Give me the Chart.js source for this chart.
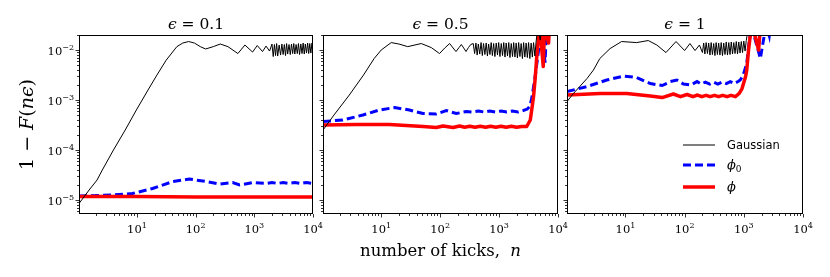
<!DOCTYPE html>
<html>
<head>
<meta charset="utf-8">
<script src="https://cdn.jsdelivr.net/npm/chart.js@4.4.1/dist/chart.umd.min.js"></script>
<style>
  body { margin: 0; background: #fff; }
  #wrap { position: relative; width: 830px; height: 277px; }
  #wrap canvas { position: absolute; left: 0; top: 0; }
</style>
</head>
<body>
<div id="wrap">
  <canvas id="c1" width="830" height="277"></canvas>
  <canvas id="c2" width="830" height="277"></canvas>
  <canvas id="c3" width="830" height="277"></canvas>
</div>
<script>
// ---- data (n = kicks, y = 1 - F(n eps)) ----
const epsLabels = ['0.1', '0.5', '1'];
const xTickExps = [1, 2, 3, 4];
const yTickExps = [-5, -4, -3, -2];

// eps = 0.1
const nGaussA = [1.03, 1.58, 2.09, 2.57, 3.98, 6.31, 10, 15.8, 21.9, 31.6, 47.9, 60.3, 75.9, 95.5, 120, 148, 200, 263, 355, 525, 692, 933, 1122, 1380, 1585, 1820,
  2000, 2100, 2200, 2300, 2400, 2500, 2650, 2800, 2950, 3100, 3250, 3400, 3550, 3700, 3900, 4100, 4300, 4500, 4700, 4900, 5150, 5400, 5650, 5900, 6200, 6500, 6800, 7100, 7400, 7750, 8100, 8450, 8800, 9200, 9600, 10000];
const yGaussA = [8.51e-6, 1.66e-5, 2.51e-5, 3.98e-5, 1.0e-4, 2.51e-4, 6.61e-4, 1.66e-3, 3.16e-3, 6.31e-3, 0.0117, 0.0138, 0.0148, 0.0138, 0.0117, 0.0105, 0.0117, 0.0132, 0.0117, 0.00851, 0.0126, 0.00912, 0.0123, 0.00933, 0.0120, 0.00955,
  0.0132, 0.00741, 0.0129, 0.00776, 0.0135, 0.00759, 0.0126, 0.00794, 0.0132, 0.00813, 0.0129, 0.00776, 0.0135, 0.00832, 0.0129, 0.00813, 0.0132, 0.00851, 0.0135, 0.00832, 0.0129, 0.00851, 0.0135, 0.00813, 0.0132, 0.00851, 0.0138, 0.00832, 0.0132, 0.00871, 0.0138, 0.00851, 0.0135, 0.00871, 0.0138, 0.00891];
const nPhi0A = [1.03, 3.8, 8.4, 18.5, 40.7, 78, 151, 257, 427, 562, 955, 1585, 2000, 2500, 3100, 3900, 4900, 6200, 7750, 10000];
const yPhi0A = [1.2e-5, 1.26e-5, 1.35e-5, 1.70e-5, 2.34e-5, 2.63e-5, 2.34e-5, 2.09e-5, 2.24e-5, 2.0e-5, 2.24e-5, 2.14e-5, 2.24e-5, 2.14e-5, 2.24e-5, 2.14e-5, 2.24e-5, 2.14e-5, 2.24e-5, 2.14e-5];
const nPhiA = [1.03, 10, 100, 1000, 10000];
const yPhiA = [1.17e-5, 1.17e-5, 1.15e-5, 1.15e-5, 1.15e-5];

// eps = 0.5
const nGaussB = [1.03, 1.58, 2.88, 5.01, 7.59, 10, 14.8, 20, 28.2, 47.9, 70.8, 97.7, 120, 145, 166, 186, 209, 229, 251, 275, 302, 331,
  365, 385, 405, 425, 445, 470, 495, 520, 545, 575, 605, 635, 665, 700, 735, 770, 810, 850, 895, 940, 985, 1035, 1090, 1145, 1200, 1260, 1320, 1390, 1460, 1530, 1610, 1690, 1770, 1860, 1950, 2050, 2150, 2260, 2370, 2490, 2610, 2740, 2880, 3020, 3170, 3330, 3500, 3670, 3850, 4050, 4250,
  4571, 5000, 5400, 10000];
const yGaussB = [2.51e-4, 5.01e-4, 1.26e-3, 3.16e-3, 6.76e-3, 0.0100, 0.0141, 0.0132, 0.0117, 0.0135, 0.0112, 0.00851, 0.0110, 0.0135, 0.0110, 0.00933, 0.0112, 0.0129, 0.0110, 0.00933, 0.0112, 0.0129,
  0.0135, 0.00851, 0.0138, 0.00794, 0.0132, 0.00832, 0.0141, 0.00776, 0.0135, 0.00813, 0.0138, 0.00759, 0.0132, 0.00813, 0.0141, 0.00776, 0.0135, 0.00741, 0.0138, 0.00794, 0.0141, 0.00741, 0.0135, 0.00776, 0.0141, 0.00724, 0.0138, 0.00759, 0.0141, 0.00708, 0.0135, 0.00741, 0.0141, 0.00724, 0.0138, 0.00692, 0.0141, 0.00741, 0.0135, 0.00676, 0.0141, 0.00724, 0.0138, 0.00708, 0.0141, 0.00676, 0.0138, 0.00724, 0.0141, 0.00759, 0.0148,
  0.030, 0.0158, 0.035, 0.06];
const nPhi0B = [1.03, 2.23, 4.9, 9.33, 16.9, 30.2, 51.3, 86.1, 127, 188, 279, 350, 450, 560, 700, 870, 1080, 1350, 1680, 2100, 2570, 3020, 3350, 3631, 4169, 4677, 5012, 5300, 6026, 6500, 10000];
const yPhi0B = [3.72e-4, 3.98e-4, 5.01e-4, 6.31e-4, 7.08e-4, 6.31e-4, 5.37e-4, 5.25e-4, 6.17e-4, 5.37e-4, 5.89e-4, 5.75e-4, 6.03e-4, 5.75e-4, 6.03e-4, 5.75e-4, 6.03e-4, 5.75e-4, 6.03e-4, 5.75e-4, 6.17e-4, 6.6e-4, 7.6e-4, 1.17e-3, 3.39e-3, 0.0100, 0.0186, 0.030, 0.0056, 0.040, 0.06];
const nPhiB = [1.03, 3.75, 13.8, 51.3, 86.1, 112, 166, 214, 260, 320, 390, 480, 590, 720, 880, 1080, 1320, 1620, 1980, 2420, 2951, 3388, 3846, 4074, 4365, 4677, 4900, 5623, 5900, 6918, 7300, 10000];
const yPhiB = [3.16e-4, 3.24e-4, 3.24e-4, 2.95e-4, 2.82e-4, 3.02e-4, 2.82e-4, 3.02e-4, 2.85e-4, 2.98e-4, 2.85e-4, 2.98e-4, 2.85e-4, 2.98e-4, 2.85e-4, 2.98e-4, 2.85e-4, 2.98e-4, 2.85e-4, 2.95e-4, 2.95e-4, 3.98e-4, 1.17e-3, 2.51e-3, 7.41e-3, 0.0186, 0.030, 4.68e-3, 0.030, 0.0138, 0.040, 0.06];

// eps = 1
const nGaussC = [1.03, 1.32, 2.24, 2.88, 3.69, 5.5, 8.61, 15.5, 24.3, 33.9, 48.4, 71.6, 100, 123, 150, 178,
  200, 210, 220, 231, 243, 255, 268, 281, 295, 310, 325, 341, 358, 376, 395, 415, 436, 458, 481, 505, 530, 557, 585, 614, 645, 677, 711, 746, 783, 822, 863, 906, 951, 1000, 1050, 1100,
  1202, 10000];
const yGaussC = [9.33e-4, 1.35e-3, 2.69e-3, 3.98e-3, 6.76e-3, 0.0107, 0.0148, 0.0141, 0.0155, 0.0126, 0.00891, 0.0148, 0.00977, 0.0135, 0.00977, 0.0126,
  0.00891, 0.0138, 0.00832, 0.0141, 0.00851, 0.0138, 0.00794, 0.0141, 0.00813, 0.0135, 0.00776, 0.0141, 0.00813, 0.0138, 0.00794, 0.0141, 0.00776, 0.0138, 0.00813, 0.0145, 0.00794, 0.0141, 0.00813, 0.0145, 0.00832, 0.0141, 0.00851, 0.0148, 0.00832, 0.0145, 0.00871, 0.0148, 0.00891, 0.0151, 0.00955, 0.0155,
  0.030, 0.06];
const nPhi0C = [1.03, 2.24, 4.84, 9.33, 15.5, 26.3, 41.7, 57.5, 74.1, 95.5, 126, 162, 190, 225, 265, 310, 365, 430, 505, 590, 690, 800, 871, 977, 1122, 1202, 1288, 1350, 1905, 2291, 2450, 2692, 2900, 10000];
const yPhi0C = [1.48e-3, 1.86e-3, 2.51e-3, 3.02e-3, 2.82e-3, 2.14e-3, 1.95e-3, 2.34e-3, 2.51e-3, 2.09e-3, 2.0e-3, 2.34e-3, 2.09e-3, 2.29e-3, 2.09e-3, 2.29e-3, 2.09e-3, 2.29e-3, 2.14e-3, 2.34e-3, 2.14e-3, 2.34e-3, 2.51e-3, 3.16e-3, 5.37e-3, 0.0117, 0.020, 0.030, 6.76e-3, 0.025, 0.030, 0.0195, 0.040, 0.06];
const nPhiC = [1.03, 3.72, 10.5, 26.3, 41.7, 64.6, 85.1, 110, 138, 165, 195, 230, 270, 320, 375, 440, 520, 610, 720, 832, 933, 1072, 1122, 1202, 1288, 1400, 1778, 1905, 10000];
const yPhiC = [1.26e-3, 1.35e-3, 1.35e-3, 1.2e-3, 1.12e-3, 1.32e-3, 1.17e-3, 1.29e-3, 1.17e-3, 1.26e-3, 1.17e-3, 1.24e-3, 1.17e-3, 1.24e-3, 1.17e-3, 1.24e-3, 1.17e-3, 1.24e-3, 1.17e-3, 1.35e-3, 1.7e-3, 2.95e-3, 3.98e-3, 0.0100, 0.020, 0.030, 0.0100, 0.030, 0.06];

// ---- layout ----
const W = 830, H = 277;
const plotLefts = [79, 323, 567];
const plotRights = [313, 558, 803];
const plotTop = 35, plotBottom = 214;
const X_MIN = 1.03, X_MAX = 1e4, Y_MIN = 5.25e-6, Y_MAX = 0.02;

const serif = '"DejaVu Serif", serif';
const sans = '"DejaVu Sans", sans-serif';

const pts = (xs, ys) => xs.map((v, i) => ({ x: v, y: ys[i] }));

// draw a row of text pieces: [text, font, dy]
function drawRuns(ctx, runs, x, y, align) {
  let total = 0;
  runs.forEach(r => { ctx.font = r[1]; total += ctx.measureText(r[0]).width; });
  let cx = align === 'center' ? x - total / 2 : align === 'right' ? x - total : x;
  ctx.textAlign = 'left';
  ctx.textBaseline = 'alphabetic';
  runs.forEach(r => {
    ctx.font = r[1];
    ctx.fillText(r[0], cx, y + (r[2] || 0));
    cx += ctx.measureText(r[0]).width;
  });
}

function powRuns(e) {
  return [['10', `11.5px ${serif}`], [String(e).replace('-', '\u2212'), `8px ${serif}`, -5.5]];
}

function logTicks(min, max) {
  const out = [];
  for (let e = Math.floor(Math.log10(min)); e <= Math.ceil(Math.log10(max)); e++) {
    for (let m = 1; m <= 9; m++) {
      const v = m * Math.pow(10, e);
      if (v >= min && v <= max * 1.0001) out.push({ v, major: m === 1 });
    }
  }
  return out;
}

function decorPlugin(idx) {
  return {
    id: 'decor' + idx,
    afterDraw(chart) {
      const { ctx, chartArea: a, scales: { x, y } } = chart;
      ctx.save();
      ctx.fillStyle = '#000';
      ctx.strokeStyle = '#000';

      // frame
      ctx.lineWidth = 1;
      ctx.strokeRect(a.left + 0.5, a.top + 0.5, a.right - a.left - 1, a.bottom - a.top - 1);

      // ticks (outward)
      ctx.lineWidth = 0.8;
      ctx.beginPath();
      logTicks(X_MIN, X_MAX).forEach(t => {
        const px = Math.round(x.getPixelForValue(t.v)) + 0.5;
        ctx.moveTo(px, a.bottom);
        ctx.lineTo(px, a.bottom + (t.major ? 3.5 : 2));
      });
      logTicks(Y_MIN, Y_MAX).forEach(t => {
        const py = Math.round(y.getPixelForValue(t.v)) + 0.5;
        ctx.moveTo(a.left, py);
        ctx.lineTo(a.left - (t.major ? 3.5 : 2), py);
      });
      ctx.stroke();

      // x tick labels
      xTickExps.forEach(e => {
        drawRuns(ctx, powRuns(e), x.getPixelForValue(Math.pow(10, e)), 233, 'center');
      });
      // y tick labels, first panel only
      if (idx === 0) {
        yTickExps.forEach(e => {
          drawRuns(ctx, powRuns(e), a.left - 5, y.getPixelForValue(Math.pow(10, e)) + 5, 'right');
        });
        ctx.save();
        ctx.translate(33, (a.top + a.bottom) / 2);
        ctx.rotate(-Math.PI / 2);
        drawRuns(ctx, [
          ['1 \u2212 ', `19px ${serif}`],
          ['F', `italic 19px ${serif}`],
          ['(', `19px ${serif}`],
          ['n\u03F5', `italic 19px ${serif}`],
          [')', `19px ${serif}`]
        ], 0, 0, 'center');
        ctx.restore();
      }

      // title
      drawRuns(ctx, [
        ['\u03F5', `italic 15.5px ${serif}`],
        [' = ' + epsLabels[idx], `15.5px ${serif}`]
      ], (a.left + a.right) / 2, 29, 'center');

      // x axis label under the middle panel
      if (idx === 1) {
        drawRuns(ctx, [
          ['number of kicks,  ', `16.5px ${serif}`],
          ['n', `italic 16.5px ${serif}`]
        ], (a.left + a.right) / 2, 256, 'center');
      }

      // legend in the last panel
      if (idx === 2) {
        const lx0 = 683, lx1 = 715, tx = 727;
        ctx.lineCap = 'butt';
        ctx.lineWidth = 1; ctx.strokeStyle = '#000'; ctx.setLineDash([]);
        ctx.beginPath(); ctx.moveTo(lx0, 145); ctx.lineTo(lx1, 145); ctx.stroke();
        ctx.lineWidth = 3; ctx.strokeStyle = '#0000ff'; ctx.setLineDash([8, 4]);
        ctx.beginPath(); ctx.moveTo(lx0, 165); ctx.lineTo(lx1, 165); ctx.stroke();
        ctx.lineWidth = 3.5; ctx.strokeStyle = '#ff0000'; ctx.setLineDash([]);
        ctx.beginPath(); ctx.moveTo(lx0, 187); ctx.lineTo(lx1, 187); ctx.stroke();
        ctx.fillStyle = '#000';
        drawRuns(ctx, [['Gaussian', `11.5px ${sans}`]], tx, 149, 'left');
        drawRuns(ctx, [['\u03D5', `italic 13px ${serif}`], ['0', `9px ${serif}`, 3]], tx, 169, 'left');
        drawRuns(ctx, [['\u03D5', `italic 13px ${serif}`]], tx, 191, 'left');
      }
      ctx.restore();
    }
  };
}

const panels = [
  [nGaussA, yGaussA, nPhi0A, yPhi0A, nPhiA, yPhiA],
  [nGaussB, yGaussB, nPhi0B, yPhi0B, nPhiB, yPhiB],
  [nGaussC, yGaussC, nPhi0C, yPhi0C, nPhiC, yPhiC]
];

panels.forEach((p, i) => {
  const ctx = document.getElementById('c' + (i + 1)).getContext('2d');
  new Chart(ctx, {
    type: 'line',
    data: {
      datasets: [
        { label: 'Gaussian', data: pts(p[0], p[1]), borderColor: '#000', borderWidth: 1, order: 1, borderJoinStyle: 'round' },
        { label: 'phi0', data: pts(p[2], p[3]), borderColor: '#0000ff', borderWidth: 3, borderDash: [8, 4], order: 3 },
        { label: 'phi', data: pts(p[4], p[5]), borderColor: '#ff0000', borderWidth: 3.5, order: 2, borderJoinStyle: 'round' }
      ]
    },
    options: {
      responsive: false,
      animation: false,
      events: [],
      devicePixelRatio: 1,
      layout: { padding: { left: plotLefts[i], right: W - plotRights[i], top: plotTop, bottom: H - plotBottom } },
      elements: { point: { radius: 0 }, line: { tension: 0, fill: false } },
      datasets: { line: { clip: 0 } },
      plugins: { legend: { display: false }, tooltip: { enabled: false }, title: { display: false } },
      scales: {
        x: { type: 'logarithmic', min: X_MIN, max: X_MAX, display: false },
        y: { type: 'logarithmic', min: Y_MIN, max: Y_MAX, display: false }
      }
    },
    plugins: [decorPlugin(i)]
  });
});
</script>
</body>
</html>
